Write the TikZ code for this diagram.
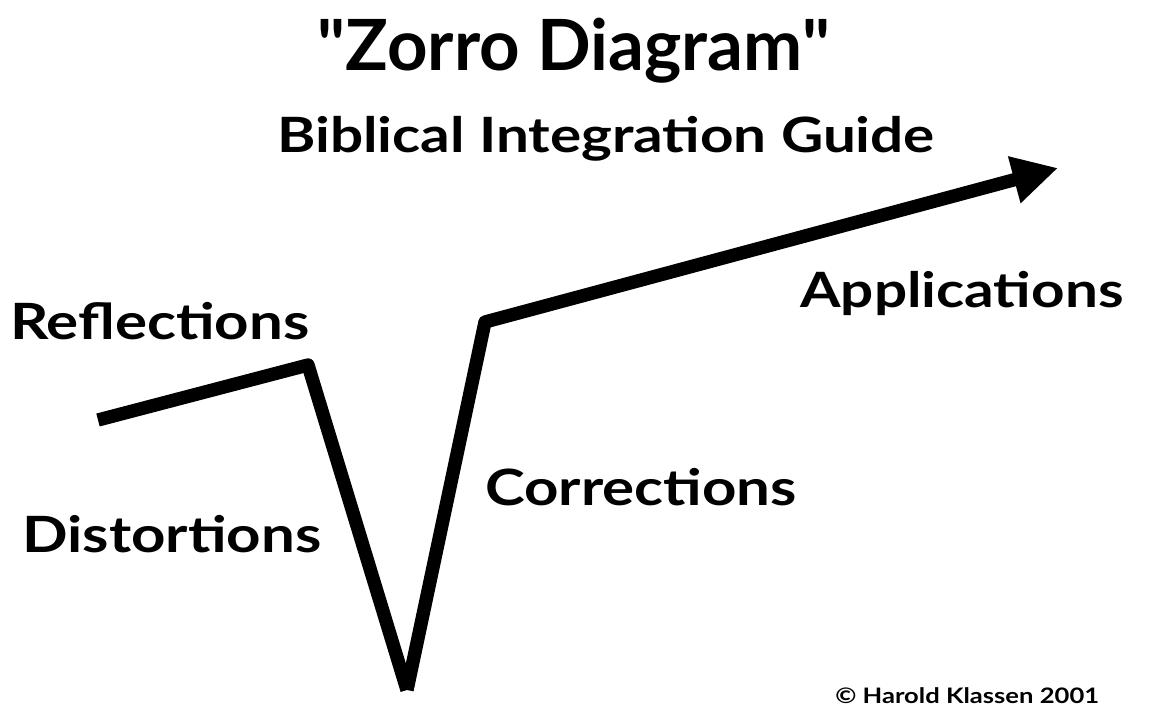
\documentclass[tikz,border=0pt]{standalone}
\usepackage{fontspec}
\setmainfont{Lato}
\newfontfamily\widefont[FakeStretch=1.2]{Lato}
\usetikzlibrary{arrows.meta,positioning}
\tikzset{
  zorroline/.style={line width=10pt, line join=round, line cap=butt},
  lbl/.style={anchor=base west, inner sep=0pt, font=\widefont\fontsize{37.5}{40}\selectfont\bfseries}
}
\begin{document}
\begin{tikzpicture}[x=0.75pt, y=-0.75pt]
\useasboundingbox (0,0) rectangle (1149,706);

% === Title ===
\node[anchor=base, inner sep=0pt, font=\fontsize{53}{56}\selectfont\bfseries] (title) at (574,71) {\textquotedbl Zorro Diagram\textquotedbl};
\node[anchor=base, inner sep=0pt, font=\widefont\fontsize{36.5}{40}\selectfont\bfseries] (subtitle) at (606,153) {Biblical Integration Guide};

% === Path points ===
\coordinate (start) at (98,420);
\coordinate (reflect) at (308,365);
\coordinate (bottom) at (407,690);
\coordinate (correct) at (485,322);
\coordinate (tip) at (1058,168);

% === Zorro line ===
\draw[zorroline] (start) -- (reflect) -- (bottom);
\draw[zorroline, -{Triangle[length=34pt, width=34pt]}] (bottom) -- (correct) -- (tip);

% === Labels ===
\node[lbl] (reflections) at (10,339) {Reflections};
\node[lbl] (distortions) at (22,552) {Distortions};
\node[lbl] (corrections) at (485,505) {Corrections};
\node[lbl, font=\widefont\fontsize{36.5}{40}\selectfont\bfseries] (applications) at (800,307) {Applications};

% === Copyright ===
\node[anchor=base west, inner sep=0pt, font=\widefont\fontsize{16}{18}\selectfont\bfseries] (copy) at (835,703) {© Harold Klassen 2001};

\end{tikzpicture}
\end{document}
